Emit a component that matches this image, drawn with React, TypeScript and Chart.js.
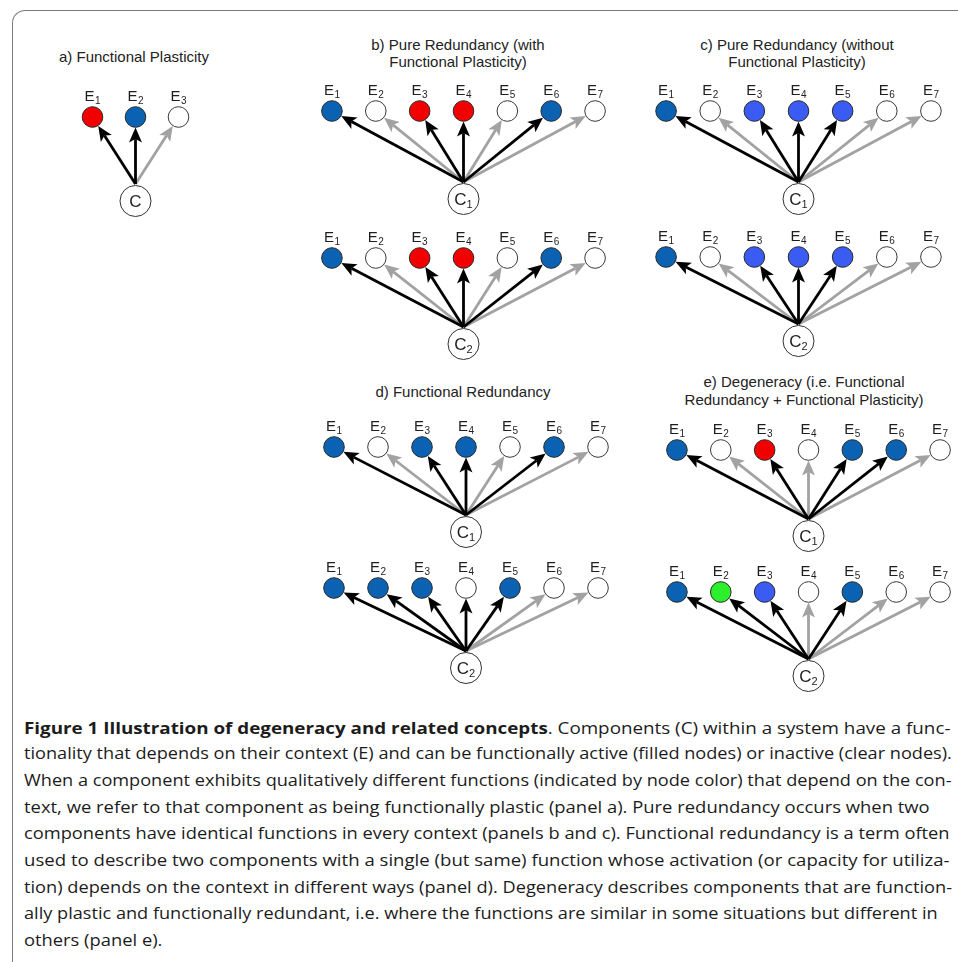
import React, { useEffect, useLayoutEffect, useRef, useState } from "react";
import { Chart, registerables } from "chart.js";

Chart.register(...registerables);

// ---------- data ----------
// node states: "blue" (function A), "bright" (function A'), "red" (function B), "green" (function C), "none" (inactive)
const fillsA = ["red", "blue", "none"];
const arrowsA = [1, 1, 0];

const fillsB1 = ["blue", "none", "red", "red", "none", "blue", "none"];
const arrowsB1 = [1, 0, 1, 1, 0, 1, 0];
const fillsB2 = ["blue", "none", "red", "red", "none", "blue", "none"];
const arrowsB2 = [1, 0, 1, 1, 0, 1, 0];

const fillsC1 = ["blue", "none", "bright", "bright", "bright", "none", "none"];
const arrowsC1 = [1, 0, 1, 1, 1, 0, 0];
const fillsC2 = ["blue", "none", "bright", "bright", "bright", "none", "none"];
const arrowsC2 = [1, 0, 1, 1, 1, 0, 0];

const fillsD1 = ["blue", "none", "blue", "blue", "none", "blue", "none"];
const arrowsD1 = [1, 0, 1, 1, 0, 1, 0];
const fillsD2 = ["blue", "blue", "blue", "none", "blue", "none", "none"];
const arrowsD2 = [1, 1, 1, 1, 1, 0, 0];

const fillsE1 = ["blue", "none", "red", "none", "blue", "blue", "none"];
const arrowsE1 = [1, 0, 1, 0, 1, 1, 0];
const fillsE2 = ["blue", "green", "bright", "none", "blue", "none", "none"];
const arrowsE2 = [1, 1, 1, 0, 1, 0, 0];

const titleA = ["a) Functional Plasticity"];
const titleB = ["b) Pure Redundancy (with", "Functional Plasticity)"];
const titleC = ["c) Pure Redundancy (without", "Functional Plasticity)"];
const titleD = ["d) Functional Redundancy"];
const titleE = ["e) Degeneracy (i.e. Functional", "Redundancy + Functional Plasticity)"];

const captionBold = "Figure 1 Illustration of degeneracy and related concepts";
const captionLines = [
  ". Components (C) within a system have a func-",
  "tionality that depends on their context (E) and can be functionally active (filled nodes) or inactive (clear nodes).",
  "When a component exhibits qualitatively different functions (indicated by node color) that depend on the con-",
  "text, we refer to that component as being functionally plastic (panel a). Pure redundancy occurs when two",
  "components have identical functions in every context (panels b and c). Functional redundancy is a term often",
  "used to describe two components with a single (but same) function whose activation (or capacity for utiliza-",
  "tion) depends on the context in different ways (panel d). Degeneracy describes components that are function-",
  "ally plastic and functionally redundant, i.e. where the functions are similar in some situations but different in",
  "others (panel e).",
];

// ---------- styles ----------
const COLORS: Record<string, string> = {
  blue: "#0b62b2",
  bright: "#3b5cf3",
  red: "#f20000",
  green: "#2df02d",
  none: "#ffffff",
};
const ARROW_ON = "#000000";
const ARROW_OFF = "#a2a2a2";
const R_NODE = 10.3;
const R_C = 15.5;
const ABOVE = 44;
const BELOW = 22;
const SANS = '"Liberation Sans", Arial, sans-serif';

type DiagramSpec = {
  fills: string[];
  arrows: number[];
  sub: string;
  x0: number;
  sp: number;
  yNode: number;
  yC: number;
};

const diagrams: DiagramSpec[] = [
  { fills: fillsA, arrows: arrowsA, sub: "", x0: 92, sp: 43, yNode: 117, yC: 201 },
  { fills: fillsB1, arrows: arrowsB1, sub: "1", x0: 332, sp: 43.8, yNode: 111, yC: 199 },
  { fills: fillsB2, arrows: arrowsB2, sub: "2", x0: 332, sp: 43.8, yNode: 258, yC: 344 },
  { fills: fillsC1, arrows: arrowsC1, sub: "1", x0: 666, sp: 44.2, yNode: 111, yC: 199 },
  { fills: fillsC2, arrows: arrowsC2, sub: "2", x0: 666, sp: 44.2, yNode: 257, yC: 341 },
  { fills: fillsD1, arrows: arrowsD1, sub: "1", x0: 334, sp: 44, yNode: 447, yC: 532 },
  { fills: fillsD2, arrows: arrowsD2, sub: "2", x0: 334, sp: 44, yNode: 588, yC: 668 },
  { fills: fillsE1, arrows: arrowsE1, sub: "1", x0: 677, sp: 43.8, yNode: 450, yC: 536 },
  { fills: fillsE2, arrows: arrowsE2, sub: "2", x0: 677, sp: 43.8, yNode: 592, yC: 676 },
];

const titles = [
  { lines: titleA, cx: 134, y: 57, gap: 17 },
  { lines: titleB, cx: 458, y: 45, gap: 17 },
  { lines: titleC, cx: 797, y: 45, gap: 17 },
  { lines: titleD, cx: 463, y: 392, gap: 17 },
  { lines: titleE, cx: 804, y: 382, gap: 18 },
];

const captionTops = [728, 753, 780, 807, 833, 860, 887, 913, 940];
const captionRight = [950, 952, 952, 930, 950, 950, 952, 938, 0];

function Diagram({ d }: { d: DiagramSpec }) {
  const ref = useRef<HTMLCanvasElement>(null);
  const n = d.fills.length;
  const u = d.yC - d.yNode;
  const w = Math.round(n * d.sp);
  const h = Math.round(u + ABOVE + BELOW);
  const left = Math.round(d.x0 - d.sp / 2);
  const top = Math.round(d.yNode - ABOVE);

  useEffect(() => {
    if (!ref.current) return;
    const cxVal = (n + 1) / 2;
    const plugin = {
      id: "diagramDraw",
      beforeDatasetsDraw(chart: any) {
        const ctx = chart.ctx;
        const xs = chart.scales.x;
        const ys = chart.scales.y;
        const sx = xs.getPixelForValue(cxVal);
        const sy = ys.getPixelForValue(0) - R_C - 1.5;
        ctx.save();
        const order = d.arrows.map((a, i) => i).sort((a, b) => d.arrows[a] - d.arrows[b]);
        for (const i of order) {
          const tx = xs.getPixelForValue(i + 1);
          const ty = ys.getPixelForValue(1);
          const dx = tx - sx;
          const dy = ty - sy;
          const L = Math.hypot(dx, dy);
          const ux = dx / L;
          const uy = dy / L;
          const px = -uy;
          const py = ux;
          const tipX = tx - ux * (R_NODE + 0.3);
          const tipY = ty - uy * (R_NODE + 0.3);
          const headLen = 15;
          const headW = 6.5;
          const notch = 3.5;
          const bx = tipX - ux * headLen;
          const by = tipY - uy * headLen;
          const color = d.arrows[i] ? ARROW_ON : ARROW_OFF;
          ctx.strokeStyle = color;
          ctx.fillStyle = color;
          ctx.lineWidth = 2.8;
          ctx.lineCap = "butt";
          ctx.beginPath();
          ctx.moveTo(sx, sy);
          ctx.lineTo(bx + ux * notch, by + uy * notch);
          ctx.stroke();
          ctx.beginPath();
          ctx.moveTo(tipX, tipY);
          ctx.lineTo(bx + px * headW, by + py * headW);
          ctx.lineTo(bx + ux * notch, by + uy * notch);
          ctx.lineTo(bx - px * headW, by - py * headW);
          ctx.closePath();
          ctx.fill();
        }
        ctx.restore();
      },
      afterDatasetsDraw(chart: any) {
        const ctx = chart.ctx;
        const xs = chart.scales.x;
        const ys = chart.scales.y;
        ctx.save();
        ctx.fillStyle = "#1e1e1e";
        ctx.textBaseline = "alphabetic";
        ctx.textAlign = "left";
        for (let i = 0; i < n; i++) {
          const x = xs.getPixelForValue(i + 1);
          const y = ys.getPixelForValue(1) - 16;
          ctx.font = `15px ${SANS}`;
          const wE = ctx.measureText("E").width;
          ctx.font = `10px ${SANS}`;
          const s = String(i + 1);
          const wS = ctx.measureText(s).width;
          const start = x - (wE + wS + 0.5) / 2;
          ctx.font = `15px ${SANS}`;
          ctx.fillText("E", start, y);
          ctx.font = `10px ${SANS}`;
          ctx.fillText(s, start + wE + 0.5, y + 2.5);
        }
        const cx = xs.getPixelForValue(cxVal);
        const cy = ys.getPixelForValue(0);
        ctx.font = `17px ${SANS}`;
        const wC = ctx.measureText("C").width;
        ctx.font = `11px ${SANS}`;
        const wSub = d.sub ? ctx.measureText(d.sub).width : 0;
        const st = cx - (wC + wSub) / 2;
        ctx.font = `17px ${SANS}`;
        ctx.fillText("C", st, cy + 6);
        if (d.sub) {
          ctx.font = `11px ${SANS}`;
          ctx.fillText(d.sub, st + wC, cy + 9);
        }
        ctx.restore();
      },
    };

    const chart = new Chart(ref.current, {
      type: "scatter",
      data: {
        datasets: [
          {
            data: d.fills.map((_, i) => ({ x: i + 1, y: 1 })),
            backgroundColor: d.fills.map((f) => COLORS[f]),
            borderColor: d.fills.map((f) => (f === "none" ? "#3a3a3a" : "#2a2a2a")),
            borderWidth: 1,
            pointRadius: R_NODE,
            pointHoverRadius: R_NODE,
            clip: false,
          } as any,
          {
            data: [{ x: cxVal, y: 0 }],
            backgroundColor: "#ffffff",
            borderColor: "#333333",
            borderWidth: 1,
            pointRadius: R_C,
            pointHoverRadius: R_C,
            clip: false,
          } as any,
        ],
      },
      options: {
        responsive: false,
        maintainAspectRatio: false,
        animation: false,
        events: [],
        layout: { padding: 0, autoPadding: false },
        plugins: { legend: { display: false }, tooltip: { enabled: false }, title: { display: false } },
        scales: {
          x: { type: "linear", display: false, min: 0.5, max: n + 0.5 },
          y: { type: "linear", display: false, min: -BELOW / u, max: 1 + ABOVE / u },
        },
      } as any,
      plugins: [plugin],
    });
    return () => chart.destroy();
  }, []);

  return (
    <canvas
      ref={ref}
      width={w}
      height={h}
      style={{ position: "absolute", left, top, width: w, height: h }}
    />
  );
}

function Caption() {
  const refs = useRef<(HTMLDivElement | null)[]>([]);
  const [scales, setScales] = useState<number[]>(captionLines.map(() => 1));
  useLayoutEffect(() => {
    const measure = () => {
      const arr: number[] = [];
      let sum = 0;
      let cnt = 0;
      captionLines.forEach((_, i) => {
        const el = refs.current[i];
        const wNat = el ? el.offsetWidth : 0;
        if (captionRight[i] > 0 && wNat > 0) {
          arr[i] = (captionRight[i] - 24) / wNat;
          sum += arr[i];
          cnt++;
        }
      });
      const avg = cnt ? sum / cnt : 1;
      captionLines.forEach((_, i) => {
        if (!(captionRight[i] > 0)) arr[i] = avg;
      });
      setScales(arr);
    };
    measure();
    (document as any).fonts?.ready?.then(measure);
  }, []);
  return (
    <>
      {captionLines.map((line, i) => (
        <div
          key={i}
          ref={(el) => {
            refs.current[i] = el;
          }}
          style={{
            position: "absolute",
            left: 24,
            top: captionTops[i] - 11,
            height: 22,
            lineHeight: "22px",
            whiteSpace: "nowrap",
            fontFamily: '"Open Sans", "Noto Sans", sans-serif',
            fontSize: 15.8,
            color: "#1c1c1c",
            transformOrigin: "0 0",
            transform: `scaleX(${scales[i]})`,
          }}
        >
          {i === 0 ? (
            <>
              <b>{captionBold}</b>
              {line}
            </>
          ) : (
            line
          )}
        </div>
      ))}
    </>
  );
}

export default function App() {
  useEffect(() => {
    document.body.style.margin = "0";
    document.body.style.background = "#ffffff";
  }, []);
  return (
    <div style={{ position: "relative", width: 958, height: 962, overflow: "hidden", background: "#fff" }}>
      <div
        style={{
          position: "absolute",
          left: 12,
          top: 10,
          width: 1000,
          height: 1000,
          borderTop: "1.5px solid #7a7a7a",
          borderLeft: "1.5px solid #7a7a7a",
          borderTopLeftRadius: 13,
          boxSizing: "border-box",
        }}
      />
      {titles.map((t, k) =>
        t.lines.map((line, j) => (
          <div
            key={`${k}-${j}`}
            style={{
              position: "absolute",
              left: t.cx - 200,
              width: 400,
              top: t.y + j * t.gap - 9,
              height: 18,
              lineHeight: "18px",
              textAlign: "center",
              fontFamily: SANS,
              fontSize: 15,
              color: "#222",
              whiteSpace: "nowrap",
            }}
          >
            {line}
          </div>
        ))
      )}
      {diagrams.map((d, i) => (
        <Diagram key={i} d={d} />
      ))}
      <Caption />
    </div>
  );
}
